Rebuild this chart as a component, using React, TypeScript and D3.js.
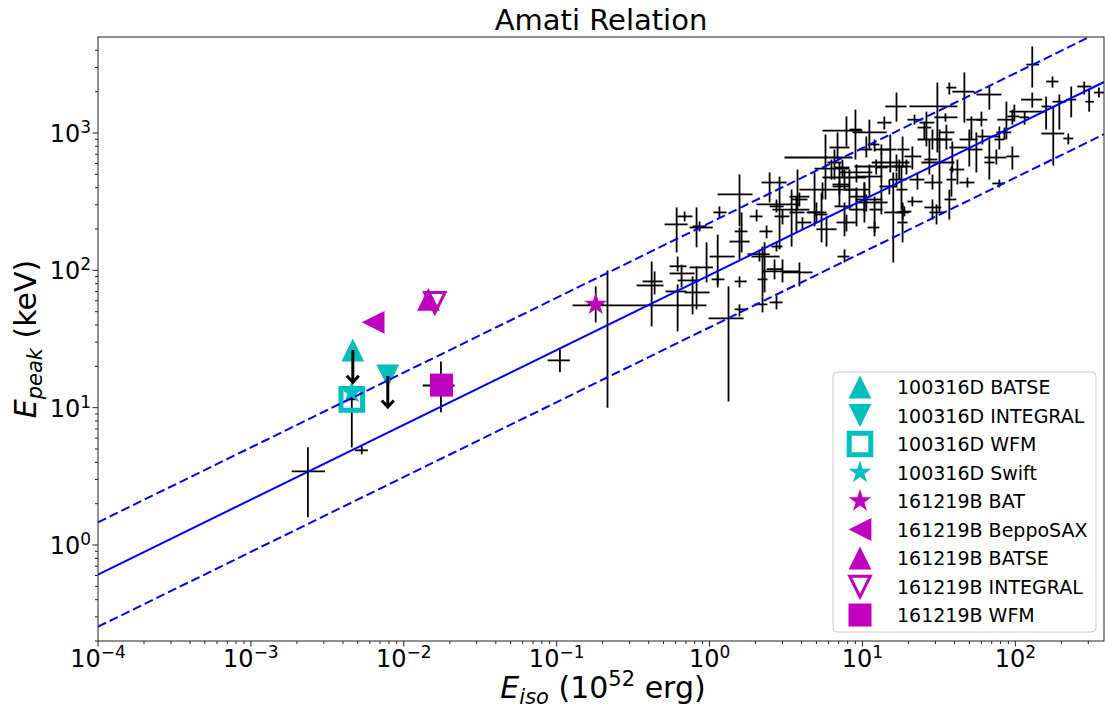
import React from 'react'
import * as d3 from 'd3'

const W = 1105
const H = 713
const plot = { left: 98, right: 1104, top: 37, bottom: 641 }

const xDomain = [1e-4, 380]
const yDomain = [0.2, 5000]
const xTicks = [1e-4, 1e-3, 1e-2, 1e-1, 1, 10, 100]
const xTickExps = ['−4', '−3', '−2', '−1', '0', '1', '2']
const yTicks = [1, 10, 100, 1000]
const yTickExps = ['0', '1', '2', '3']

// Amati fit: Epeak = norm * Eiso^slope, dashed band = x/ scatter
const fitNorm = 92.3
const fitSlope = 0.545
const fitScatter = 2.4

// black sample: [Eiso, Eiso low, Eiso high, Epeak, Epeak low, Epeak high]
const grbSample = [
  [0.00236, 0.00185, 0.00305, 3.44, 1.59, 5.14],
  [0.00457, 0.00424, 0.00493, 11.5, 5.14, 14.8],
  [0.00531, 0.00479, 0.00582, 4.89, 4.57, 5.23],
  [0.0175, 0.0133, 0.0215, 14.5, 9.25, 21.7],
  [0.105, 0.0873, 0.122, 22.1, 18.1, 26.6],
  [0.18, 0.16, 0.203, 56.5, 41.8, 76.4],
  [0.215, 0.127, 0.955, 55.5, 10.0, 99.8],
  [0.418, 0.333, 0.5, 77.6, 39.1, 116],
  [0.437, 0.365, 0.493, 83.0, 66.8, 98.2],
  [0.618, 0.516, 0.707, 70.2, 35.9, 78.9],
  [0.774, 0.618, 0.86, 84.4, 47.8, 90.3],
  [0.822, 0.687, 1.0, 69.0, 52.0, 107],
  [0.656, 0.548, 0.798, 94.9, 75.1, 110],
  [0.956, 0.74, 1.05, 105, 81.7, 160],
  [1.13, 1.0, 1.46, 126, 75.1, 182],
  [1.57, 1.46, 1.75, 83.0, 75.1, 90.3],
  [1.57, 1.35, 1.83, 162, 120, 205],
  [1.16, 1.06, 1.29, 264, 239, 292],
  [0.609, 0.508, 0.718, 216, 135, 287],
  [0.687, 0.618, 0.774, 247, 227, 268],
  [0.822, 0.74, 1.05, 205, 147, 287],
  [0.618, 0.548, 0.707, 107, 98.2, 126],
  [0.86, 0.774, 0.956, 209, 192, 227],
  [1.13, 1.03, 1.25, 85.9, 78.9, 93.4],
  [1.33, 0.985, 1.67, 44.7, 11.1, 76.4],
  [1.57, 1.46, 1.75, 52.0, 46.2, 56.5],
  [2.22, 1.97, 2.39, 56.5, 49.4, 64.6],
  [2.74, 2.47, 3.0, 58.4, 52.0, 65.7],
  [2.36, 2.12, 2.58, 192, 171, 212],
  [2.29, 1.88, 2.87, 126, 69.0, 160],
  [2.22, 2.06, 2.39, 85.9, 64.6, 149],
  [2.74, 2.54, 3.0, 149, 137, 162],
  [3.0, 2.22, 3.87, 98.2, 81.7, 120],
  [2.03, 1.83, 2.22, 247, 227, 277],
  [2.74, 2.47, 3.05, 292, 264, 328],
  [1.57, 1.13, 1.91, 357, 209, 499],
  [1.62, 1.46, 1.77, 192, 135, 264],
  [2.87, 2.03, 3.87, 302, 142, 482],
  [2.47, 2.19, 3.19, 436, 312, 516],
  [3.44, 2.58, 4.5, 277, 149, 387],
  [3.76, 3.33, 4.5, 344, 277, 542],
  [3.7, 3.33, 4.18, 264, 189, 344],
  [3.0, 2.66, 3.33, 247, 216, 277],
  [3.87, 3.44, 4.37, 328, 292, 368],
  [4.05, 3.7, 4.64, 223, 199, 243],
  [5.0, 4.31, 5.82, 264, 223, 312],
  [4.86, 4.4, 5.4, 264, 209, 516],
  [5.4, 4.86, 5.9, 255, 160, 368],
  [5.82, 5.0, 6.76, 199, 149, 247],
  [5.48, 3.87, 9.55, 387, 328, 436],
  [7.07, 6.37, 8.22, 422, 292, 610],
  [7.63, 6.56, 8.6, 292, 177, 312],
  [7.86, 6.76, 9.14, 223, 192, 255],
  [9.14, 8.22, 10.3, 277, 209, 368],
  [9.14, 8.22, 10.3, 344, 302, 401],
  [10.3, 9.14, 13.5, 328, 223, 436],
  [10.3, 9.55, 11.1, 387, 264, 436],
  [5.73, 3.09, 8.6, 663, 328, 975],
  [6.27, 4.86, 8.22, 551, 458, 641],
  [7.4, 6.56, 8.22, 561, 474, 641],
  [6.56, 5.9, 7.29, 610, 458, 758],
  [7.63, 5.48, 10.6, 474, 387, 542],
  [7.07, 6.37, 8.22, 408, 357, 458],
  [8.22, 7.63, 9.14, 387, 277, 542],
  [9.14, 7.07, 11.6, 516, 436, 590],
  [12.3, 8.87, 18.3, 570, 499, 641],
  [17.4, 15.7, 19.4, 570, 458, 641],
  [6.87, 6.09, 8.22, 784, 641, 1010],
  [7.86, 5.48, 10.0, 1040, 798, 1320],
  [9.0, 8.22, 9.85, 1060, 641, 1480],
  [11.1, 8.6, 14.4, 1010, 758, 1250],
  [10.6, 9.55, 11.6, 758, 663, 943],
  [12.0, 10.8, 12.9, 825, 733, 897],
  [15.2, 13.3, 16.7, 758, 516, 975],
  [16.7, 11.5, 20.3, 610, 525, 697],
  [13.3, 12.3, 14.6, 561, 387, 721],
  [11.1, 9.14, 13.5, 482, 344, 590],
  [16.7, 15.0, 19.4, 458, 401, 516],
  [18.0, 16.7, 19.7, 387, 277, 570],
  [15.9, 13.9, 19.4, 264, 114, 516],
  [18.3, 16.7, 20.3, 264, 234, 302],
  [18.3, 16.9, 19.7, 223, 160, 312],
  [12.0, 11.1, 13.5, 277, 177, 344],
  [12.0, 10.8, 12.9, 205, 189, 227],
  [10.6, 9.14, 12.9, 312, 268, 357],
  [13.3, 12.3, 14.6, 312, 255, 387],
  [15.0, 12.9, 16.7, 408, 357, 458],
  [16.7, 14.1, 19.4, 1560, 1210, 1970],
  [13.9, 12.5, 15.5, 1190, 1060, 1320],
  [7.63, 6.87, 8.22, 126, 114, 142],
  [2.66, 2.36, 3.0, 102, 85.9, 120],
  [3.87, 3.0, 4.71, 96.6, 76.4, 114],
  [2.12, 1.77, 2.47, 131, 116, 142],
  [129, 118, 143, 3150, 2140, 4270],
  [175, 159, 191, 2370, 2140, 2580],
  [282, 254, 314, 2180, 1905, 2370],
  [304, 287, 327, 1690, 1430, 2070],
  [352, 327, 382, 1970, 1810, 2140],
  [232, 215, 250, 1750, 1300, 2180],
  [194, 175, 215, 1690, 1060, 1905],
  [177, 148, 209, 991, 580, 1560],
  [222, 206, 239, 912, 825, 991],
  [159, 148, 172, 1560, 1060, 1840],
  [129, 109, 150, 1750, 1530, 1970],
  [98.5, 91.4, 159, 1430, 1210, 1610],
  [115, 106, 123, 1300, 1150, 1430],
  [67.6, 55.6, 81.0, 1905, 1480, 2180],
  [46.4, 38.7, 54.0, 2000, 1190, 2760],
  [37.0, 35.4, 41.1, 2140, 1905, 2330],
  [30.9, 20.3, 41.8, 1560, 721, 2330],
  [21.9, 19.7, 24.7, 1250, 1150, 1360],
  [25.4, 22.9, 28.2, 1095, 897, 1210],
  [60.0, 55.6, 65.6, 1250, 1115, 1430],
  [51.6, 47.8, 60.0, 1250, 897, 1320],
  [50.0, 43.1, 56.5, 897, 570, 1060],
  [60.9, 56.5, 78.6, 943, 825, 1060],
  [87.4, 76.3, 98.5, 1250, 897, 1690],
  [84.8, 75.1, 94.1, 1010, 897, 1095],
  [95.6, 88.6, 106, 1320, 1150, 1480],
  [75.1, 62.7, 87.4, 663, 590, 758],
  [78.6, 70.7, 84.8, 429, 401, 458],
  [95.6, 87.4, 106, 675, 542, 798],
  [67.6, 62.7, 72.9, 610, 458, 897],
  [55.6, 48.6, 60.9, 758, 516, 1010],
  [38.7, 37.0, 48.6, 784, 516, 867],
  [48.6, 43.1, 54.0, 436, 401, 474],
  [38.2, 35.4, 41.1, 458, 344, 570],
  [31.9, 24.3, 39.9, 610, 264, 758],
  [28.7, 22.9, 38.7, 897, 758, 1060],
  [31.9, 29.5, 34.9, 897, 758, 1060],
  [21.2, 18.8, 24.3, 675, 542, 798],
  [19.4, 18.0, 20.9, 570, 499, 641],
  [22.9, 20.3, 25.4, 458, 387, 516],
  [28.7, 25.4, 33.3, 436, 387, 499],
  [21.2, 19.7, 24.7, 317, 292, 344],
  [28.7, 25.4, 32.8, 287, 234, 328],
  [30.5, 27.4, 34.4, 264, 216, 302],
  [37.0, 34.4, 41.1, 328, 234, 387],
  [18.8, 17.4, 20.9, 268, 247, 292],
  [27.4, 25.4, 30.9, 641, 499, 897],
  [18.3, 16.9, 20.3, 758, 570, 943],
  [13.3, 12.0, 15.0, 758, 697, 825],
  [26.2, 23.6, 29.5, 1190, 798, 1430],
  [35.4, 31.9, 39.9, 1010, 758, 1150],
  [78.6, 72.9, 84.8, 897, 758, 1115],
  [41.8, 37.0, 46.4, 542, 422, 641],
  [34.9, 29.5, 41.8, 1300, 1210, 1390],
]

const cyan = '#00bfbf'
const magenta = '#bf00bf'

// highlighted bursts, in legend order (limitTo = upper-limit arrow end)
const highlightLabels = [
  '100316D BATSE', '100316D INTEGRAL', '100316D WFM', '100316D Swift',
  '161219B BAT', '161219B BeppoSAX', '161219B BATSE', '161219B INTEGRAL', '161219B WFM',
]
const highlightShapes = ['up', 'down', 'square', 'star', 'star', 'left', 'up', 'down', 'square']
const highlightColors = [cyan, cyan, cyan, cyan, magenta, magenta, magenta, magenta, magenta]
const highlightOpen = [false, false, true, false, false, false, false, true, false]
const highlightEiso = [0.00464, 0.00786, 0.00457, 0.00457, 0.18, 0.0063, 0.0145, 0.01595, 0.01764]
const highlightEpeak = [26.3, 17.0, 11.5, 12.9, 56.5, 41.8, 61.4, 58.1, 14.6]
const highlightLimitTo = [15.3, 10.1, null, null, null, null, null, null, null]
// drawing order (the Swift star sits under the square)
const drawOrder = [3, 4, 5, 6, 7, 8, 0, 1, 2]

function markerPath(shape: string, r: number) {
  if (shape === 'up') return `M0,${-r}L${r},${r}L${-r},${r}Z`
  if (shape === 'down') return `M0,${r}L${r},${-r}L${-r},${-r}Z`
  if (shape === 'left') return `M${-r},0L${r},${-r}L${r},${r}Z`
  if (shape === 'square') return `M${-r},${-r}H${r}V${r}H${-r}Z`
  const pts: string[] = []
  for (let i = 0; i < 10; i++) {
    const rr = i % 2 === 0 ? r : r * 0.382
    const a = (Math.PI / 5) * i - Math.PI / 2
    pts.push(`${(rr * Math.cos(a)).toFixed(2)},${(rr * Math.sin(a)).toFixed(2)}`)
  }
  return 'M' + pts.join('L') + 'Z'
}

function Marker({ i, cx, cy }: { i: number; cx: number; cy: number }) {
  const shape = highlightShapes[i]
  const open = highlightOpen[i]
  const color = highlightColors[i]
  let r = 11.4
  if (shape === 'star') r = 12
  if (shape === 'square') r = open ? 10.8 : 11.5
  if (shape === 'down' && open) r = 10.3
  return (
    <path
      d={markerPath(shape, r)}
      transform={`translate(${cx},${cy})`}
      fill={open ? 'none' : color}
      stroke={color}
      strokeWidth={open ? (shape === 'square' ? 5 : 3) : 0}
      strokeLinejoin="miter"
    />
  )
}

export default function App() {
  const x = d3.scaleLog().domain(xDomain).range([plot.left, plot.right])
  const y = d3.scaleLog().domain(yDomain).range([plot.bottom, plot.top])

  const xMinor: number[] = []
  for (let d = -4; d <= 2; d++)
    for (let k = 2; k <= 9; k++) {
      const v = k * Math.pow(10, d)
      if (v > xDomain[0] && v < xDomain[1]) xMinor.push(v)
    }
  const yMinor: number[] = []
  for (let d = -1; d <= 3; d++)
    for (let k = 2; k <= 9; k++) {
      const v = k * Math.pow(10, d)
      if (v >= yDomain[0] && v < yDomain[1]) yMinor.push(v)
    }

  const fitLine = (factor: number) =>
    d3
      .line<number>()
      .x((d) => x(d))
      .y((d) => y(factor * fitNorm * Math.pow(d, fitSlope)))(xDomain)

  return (
    <svg
      width={W}
      height={H}
      style={{ position: 'absolute', left: 0, top: 0, background: '#fff' }}
      fontFamily="DejaVu Sans"
    >
      <defs>
        <clipPath id="plot-clip">
          <rect x={plot.left} y={plot.top} width={plot.right - plot.left} height={plot.bottom - plot.top} />
        </clipPath>
      </defs>

      <text x={601} y={30} textAnchor="middle" fontSize={29}>
        Amati Relation
      </text>

      <g clipPath="url(#plot-clip)">
        {grbSample.map((d, i) => (
          <g key={i} stroke="#000" strokeWidth={1.8}>
            <line x1={x(d[1])} x2={x(d[2])} y1={y(d[3])} y2={y(d[3])} />
            <line x1={x(d[0])} x2={x(d[0])} y1={y(d[4])} y2={y(d[5])} />
          </g>
        ))}

        {drawOrder.map((i) => (
          <Marker key={i} i={i} cx={x(highlightEiso[i])} cy={y(highlightEpeak[i])} />
        ))}

        {drawOrder
          .filter((i) => highlightLimitTo[i] !== null)
          .map((i) => {
            const cx = x(highlightEiso[i])
            const y0 = y(highlightEpeak[i])
            const y1 = y(highlightLimitTo[i] as number)
            return (
              <g key={'lim' + i} stroke="#000" strokeWidth={3} fill="none">
                <path d={`M${cx},${y0}V${y1}`} />
                <path d={`M${cx - 6},${y1 - 6.5}L${cx},${y1}L${cx + 6},${y1 - 6.5}`} strokeLinejoin="miter" />
              </g>
            )
          })}

        <path d={fitLine(1) || ''} fill="none" stroke="#0000ff" strokeWidth={2} />
        <path d={fitLine(fitScatter) || ''} fill="none" stroke="#0000ff" strokeWidth={2} strokeDasharray="9,4" />
        <path d={fitLine(1 / fitScatter) || ''} fill="none" stroke="#0000ff" strokeWidth={2} strokeDasharray="9,4" />
      </g>

      {/* frame */}
      <rect
        x={plot.left}
        y={plot.top}
        width={plot.right - plot.left}
        height={plot.bottom - plot.top}
        fill="none"
        stroke="#222"
        strokeWidth={1}
      />

      {/* x axis */}
      {xMinor.map((v) => (
        <line key={'xm' + v} x1={x(v)} x2={x(v)} y1={plot.bottom} y2={plot.bottom + 3} stroke="#222" />
      ))}
      {xTicks.map((v, i) => (
        <g key={'xt' + v}>
          <line x1={x(v)} x2={x(v)} y1={plot.bottom} y2={plot.bottom + 5.5} stroke="#222" />
          <text x={x(v)} y={667} textAnchor="middle" fontSize={24}>
            10
            <tspan dy={-9} fontSize={17}>
              {xTickExps[i]}
            </tspan>
          </text>
        </g>
      ))}

      {/* y axis */}
      {yMinor.map((v) => (
        <line key={'ym' + v} x1={plot.left - 3} x2={plot.left} y1={y(v)} y2={y(v)} stroke="#222" />
      ))}
      {yTicks.map((v, i) => (
        <g key={'yt' + v}>
          <line x1={plot.left - 5.5} x2={plot.left} y1={y(v)} y2={y(v)} stroke="#222" />
          <text x={91} y={y(v) + 9} textAnchor="end" fontSize={24}>
            10
            <tspan dy={-9} fontSize={17}>
              {yTickExps[i]}
            </tspan>
          </text>
        </g>
      ))}

      {/* axis labels */}
      <text x={603} y={698} textAnchor="middle" fontSize={30}>
        <tspan fontStyle="italic">E</tspan>
        <tspan fontStyle="italic" fontSize={21} dy={6}>
          iso
        </tspan>
        <tspan dy={-6}> (10</tspan>
        <tspan fontSize={21} dy={-12}>
          52
        </tspan>
        <tspan dy={12}> erg)</tspan>
      </text>
      <text transform={`translate(36,${(plot.top + plot.bottom) / 2}) rotate(-90)`} textAnchor="middle" fontSize={30}>
        <tspan fontStyle="italic">E</tspan>
        <tspan fontStyle="italic" fontSize={21} dy={6}>
          peak
        </tspan>
        <tspan dy={-6}> (keV)</tspan>
      </text>

      {/* legend */}
      <rect x={833} y={372} width={263} height={260} rx={4} fill="#fff" fillOpacity={0.8} stroke="#cccccc" strokeWidth={1} />
      {highlightLabels.map((label, i) => (
        <g key={label}>
          <Marker i={i} cx={860} cy={387 + i * 28.5} />
          <text x={897} y={387 + i * 28.5 + 7} fontSize={19}>
            {label}
          </text>
        </g>
      ))}
    </svg>
  )
}
